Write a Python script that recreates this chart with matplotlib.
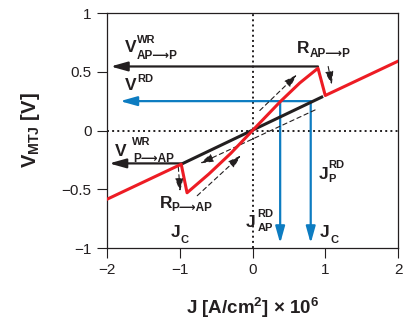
import matplotlib
matplotlib.use("Agg")
import matplotlib.pyplot as plt

# ----------------------------------------------------------------------------
# Data (J in 1e6 A/cm^2, V in volts)
# ----------------------------------------------------------------------------

# red: full switching loop of the MTJ (AP branch inside, P branch outside)
red_J = [-2.0, -0.98, -0.9, -0.6, -0.3, 0.0, 0.38, 0.65, 0.9, 1.0, 2.0]
red_V = [-0.585, -0.287, -0.53, -0.37, -0.195, 0.0, 0.245, 0.405, 0.53, 0.298, 0.59]

# black: P-state line between the two switching points
black_J = [-0.98, 0.97]
black_V = [-0.287, 0.29]

# write voltages (horizontal black arrows)
wr_ap_p_J, wr_ap_p_V = 0.9, 0.545
wr_p_ap_J, wr_p_ap_V = -0.98, -0.28

# read point (blue arrows)
v_rd = 0.25
j_rd = [0.38, 0.80]   # J_AP^RD, J_P^RD
v_arrow_end = -0.96
j_arrow_end = -1.82

# dashed guide arrows: (start J, start V, end J, end V)
guide_J0 = [0.10, 1.04, 0.86, -0.76, -1.02]
guide_V0 = [0.17, 0.545, 0.175, -0.555, -0.31]
guide_J1 = [0.61, 1.09, -0.72, -0.16, -0.995]
guide_V1 = [0.475, 0.39, -0.28, -0.212, -0.52]

y_ticks = [-1, -0.5, 0, 0.5, 1]
y_ticklabels = ["\u22121", "\u22120.5", "0", "0.5", "1"]
x_ticks = [-2, -1, 0, 1, 2]
x_ticklabels = ["\u22122", "\u22121", "0", "1", "2"]

INK = "#231f20"
RED = "#ed1c24"
BLUE = "#0d7cc1"
FAM = ["Liberation Sans", "DejaVu Sans"]

plt.rcParams["font.family"] = FAM
plt.rcParams["mathtext.fontset"] = "custom"
plt.rcParams["mathtext.rm"] = "Liberation Sans:bold"
plt.rcParams["mathtext.bf"] = "Liberation Sans:bold"
plt.rcParams["mathtext.it"] = "Liberation Sans:bold"


def txt(ax, x, y, s, size):
    ax.text(x, y, s, fontsize=size, fontweight="bold", color=INK,
            ha="left", va="baseline", family=FAM)


def arrow(ax, x0, y0, x1, y1, color, lw, hl, hw, ls="-"):
    ax.annotate("", xy=(x1, y1), xytext=(x0, y0),
                arrowprops=dict(arrowstyle=f"-|>,head_length={hl},head_width={hw}",
                                color=color, lw=lw, ls=ls, mutation_scale=10,
                                shrinkA=0, shrinkB=0))


fig = plt.figure(figsize=(4.14, 3.22), dpi=100)
ax = fig.add_axes([0.2585, 0.2298, 0.7029, 0.7298])
ax.set_xlim(-2, 2)
ax.set_ylim(-1, 1)

# zero lines
ax.axhline(0, color=INK, ls=":", lw=1.4, zorder=1)
ax.axvline(0, color=INK, ls=":", lw=1.4, zorder=1)

# blue read arrows
arrow(ax, j_rd[1], v_rd, j_arrow_end, v_rd, BLUE, 1.6, 1.0, 0.28)
for j in j_rd:
    arrow(ax, j, v_rd, j, v_arrow_end, BLUE, 1.6, 1.0, 0.28)

# black write arrows
arrow(ax, wr_ap_p_J, wr_ap_p_V, -1.95, wr_ap_p_V, INK, 1.6, 1.0, 0.28)
arrow(ax, wr_p_ap_J, wr_p_ap_V, -1.97, wr_p_ap_V, INK, 1.6, 1.0, 0.28)

# dashed guides
for a, b, c, d in zip(guide_J0, guide_V0, guide_J1, guide_V1):
    arrow(ax, a, b, c, d, INK, 0.8, 0.8, 0.25, ls=(0, (4, 3)))

ax.plot(black_J, black_V, color=INK, lw=2.2, solid_capstyle="butt", zorder=3)
ax.plot(red_J, red_V, color=RED, lw=2.2, zorder=4)

# labels
txt(ax, -1.753, 0.666, "V", 12.5)
txt(ax, -1.592, 0.742, "WR", 8)
txt(ax, -1.592, 0.609, "AP\u27f6P", 8.5)

txt(ax, -1.753, 0.345, "V", 12.5)
txt(ax, -1.588, 0.415, "RD", 8)

txt(ax, 0.608, 0.657, "R", 12.5)
txt(ax, 0.781, 0.623, "AP\u27f6P", 8.5)

txt(ax, -1.89, -0.217, "V", 12.5)
txt(ax, -1.66, -0.123, "WR", 8)
txt(ax, -1.638, -0.266, "P\u27f6AP", 8.5)

txt(ax, -1.271, -0.662, "R", 12.5)
txt(ax, -1.111, -0.683, "P\u27f6AP", 8.5)

txt(ax, -1.124, -0.909, "J", 12.5)
txt(ax, -0.985, -0.955, "C", 8)

txt(ax, -0.093, -0.819, "J", 12.5)
txt(ax, 0.066, -0.734, "RD", 8)
txt(ax, 0.066, -0.853, "AP", 8)

txt(ax, 0.904, -0.415, "J", 12.5)
txt(ax, 1.042, -0.322, "RD", 8)
txt(ax, 1.042, -0.436, "P", 8)

txt(ax, 0.928, -0.909, "J", 12.5)
txt(ax, 1.066, -0.955, "C", 8)

# axes styling
ax.set_xticks(x_ticks)
ax.set_xticklabels(x_ticklabels)
ax.set_yticks(y_ticks)
ax.set_yticklabels(y_ticklabels)
ax.tick_params(direction="out", length=7, width=0.8, labelsize=11,
               colors=INK, pad=4)
for s in ax.spines.values():
    s.set_linewidth(0.9)
    s.set_color(INK)

ax.set_xlabel(r"J [A/cm$^{2}$] $\times$ 10$^{6}$", fontsize=13.5,
              fontweight="bold", color=INK)
ax.xaxis.set_label_coords(0.5, -0.205)
ax.set_ylabel(r"V$_{\mathrm{MTJ}}$ [V]", fontsize=14.5, fontweight="bold",
              color=INK)
ax.yaxis.set_label_coords(-0.222, 0.5)

fig.savefig("out.png", dpi=100)
